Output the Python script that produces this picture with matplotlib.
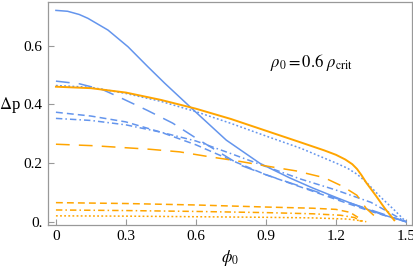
import numpy as np
import matplotlib
matplotlib.use("Agg")
import matplotlib.pyplot as plt

# data
# ------------------------------------------------------------------
blue_solid_phi = [0, 0.05, 0.1, 0.137, 0.223, 0.309, 0.394, 0.466, 0.574, 0.73, 0.874, 1.0, 1.1, 1.2, 1.3, 1.4, 1.5]
blue_solid_dp = [0.72, 0.717, 0.706, 0.693, 0.653, 0.596, 0.528, 0.472, 0.392, 0.278, 0.199, 0.15, 0.115, 0.083, 0.052, 0.024, 0.0]

blue_long_phi = [0, 0.1, 0.2, 0.27, 0.39, 0.5, 0.6, 0.79, 0.9, 1.05, 1.2, 1.35, 1.5]
blue_long_dp = [0.479, 0.47, 0.45, 0.425, 0.38, 0.336, 0.285, 0.193, 0.16, 0.12, 0.08, 0.04, 0.0]

blue_dot_phi = [0, 0.15, 0.3, 0.45, 0.6, 0.75, 0.9, 1.05, 1.2, 1.25, 1.29, 1.33, 1.39, 1.45, 1.5]
blue_dot_dp = [0.464, 0.458, 0.437, 0.41, 0.375, 0.335, 0.292, 0.25, 0.2, 0.182, 0.162, 0.135, 0.085, 0.04, 0.0]

blue_dash_phi = [0, 0.15, 0.3, 0.45, 0.6, 0.75, 0.9, 1.05, 1.2, 1.35, 1.5]
blue_dash_dp = [0.373, 0.36, 0.34, 0.305, 0.262, 0.21, 0.16, 0.118, 0.076, 0.035, 0.0]

blue_dashdot_phi = [0, 0.15, 0.3, 0.45, 0.6, 0.75, 0.9, 1.05, 1.2, 1.35, 1.5]
blue_dashdot_dp = [0.352, 0.345, 0.33, 0.305, 0.275, 0.232, 0.188, 0.145, 0.108, 0.066, 0.0]

orange_solid_phi = [0, 0.15, 0.3, 0.45, 0.6, 0.75, 0.9, 1.05, 1.15, 1.2, 1.24, 1.27, 1.29, 1.31, 1.33, 1.37, 1.41, 1.45]
orange_solid_dp = [0.46, 0.455, 0.44, 0.415, 0.385, 0.35, 0.31, 0.27, 0.243, 0.228, 0.212, 0.196, 0.18, 0.158, 0.133, 0.09, 0.045, 0.005]

orange_long_phi = [0, 0.16, 0.28, 0.4, 0.53, 0.66, 0.77, 0.9, 1.03, 1.15, 1.23, 1.29, 1.33, 1.37, 1.385]
orange_long_dp = [0.264, 0.259, 0.253, 0.247, 0.238, 0.221, 0.208, 0.19, 0.173, 0.15, 0.12, 0.09, 0.045, 0.016, 0.0]

orange_dash_phi = [0, 0.3, 0.6, 0.9, 1.1, 1.2, 1.26, 1.3, 1.31]
orange_dash_dp = [0.065, 0.062, 0.057, 0.05, 0.046, 0.042, 0.032, 0.012, 0.0]

orange_dashdot_phi = [0, 0.3, 0.6, 0.9, 1.1, 1.22, 1.28, 1.31]
orange_dashdot_dp = [0.04, 0.038, 0.035, 0.031, 0.027, 0.022, 0.014, 0.0]

orange_dot_phi = [0, 0.3, 0.6, 0.9, 1.1, 1.25, 1.31, 1.33]
orange_dot_dp = [0.02, 0.019, 0.017, 0.015, 0.013, 0.009, 0.003, 0.0]

x_ticks = [0, 0.3, 0.6, 0.9, 1.2, 1.5]
x_tick_labels = ["0", "0.3", "0.6", "0.9", "1.2", "1.5"]
y_ticks = [0, 0.2, 0.4, 0.6]
y_tick_labels = ["0.", "0.2", "0.4", "0.6"]

# styles
# ------------------------------------------------------------------
plt.rcParams['font.family'] = ['Liberation Serif', 'DejaVu Serif']
plt.rcParams['mathtext.fontset'] = 'stix'

blue = "#6495ED"
orange = "#FFA500"
lw = 1.1
long_dash = (9.0, 6.0)
med_dash = (4.5, 2.7)
dash_dot = (4.2, 2.0, 1.0, 2.0)
dots = (1.2, 1.5)

fig = plt.figure(figsize=(4.14, 2.67), dpi=100)
ax = fig.add_axes([48 / 414, 42.5 / 267, 364 / 414, 222.5 / 267])

ax.plot(blue_solid_phi, blue_solid_dp, color=blue, lw=lw)
ax.plot(blue_long_phi, blue_long_dp, color=blue, lw=lw, dashes=long_dash)
ax.plot(blue_dot_phi, blue_dot_dp, color=blue, lw=lw, dashes=dots)
ax.plot(blue_dash_phi, blue_dash_dp, color=blue, lw=lw, dashes=med_dash)
ax.plot(blue_dashdot_phi, blue_dashdot_dp, color=blue, lw=lw, dashes=dash_dot)

ax.plot(orange_solid_phi, orange_solid_dp, color=orange, lw=lw + 0.3)
ax.plot(orange_long_phi, orange_long_dp, color=orange, lw=lw, dashes=long_dash)
ax.plot(orange_dash_phi, orange_dash_dp, color=orange, lw=lw, dashes=med_dash)
ax.plot(orange_dashdot_phi, orange_dashdot_dp, color=orange, lw=lw, dashes=dash_dot)
ax.plot(orange_dot_phi, orange_dot_dp, color=orange, lw=lw, dashes=dots)

ax.set_xlim(-0.034, 1.526)
ax.set_ylim(-0.0095, 0.7486)

ax.set_xticks(x_ticks)
ax.set_xticklabels(x_tick_labels)
ax.set_yticks(y_ticks)
ax.set_yticklabels(y_tick_labels)
ax.tick_params(direction="in", length=4, width=0.8, color="#999999",
               labelsize=11, pad=4)

for s in ax.spines.values():
    s.set_color("#999999")
    s.set_linewidth(0.9)

ax.set_xlabel(r"$\phi_0$", fontsize=12, va="center")
ax.xaxis.set_label_coords(0.5, -0.15)
ax.set_ylabel(r"$\Delta$p", fontsize=12, rotation=0, va="center", ha="center")
ax.yaxis.set_label_coords(-0.104, 0.537)

ax.text(1.096, 0.544, r"$\rho_0 = 0.6\ \rho_{\mathrm{crit}}$", fontsize=12,
        ha="center", va="center")

fig.savefig("out.png", dpi=100)
